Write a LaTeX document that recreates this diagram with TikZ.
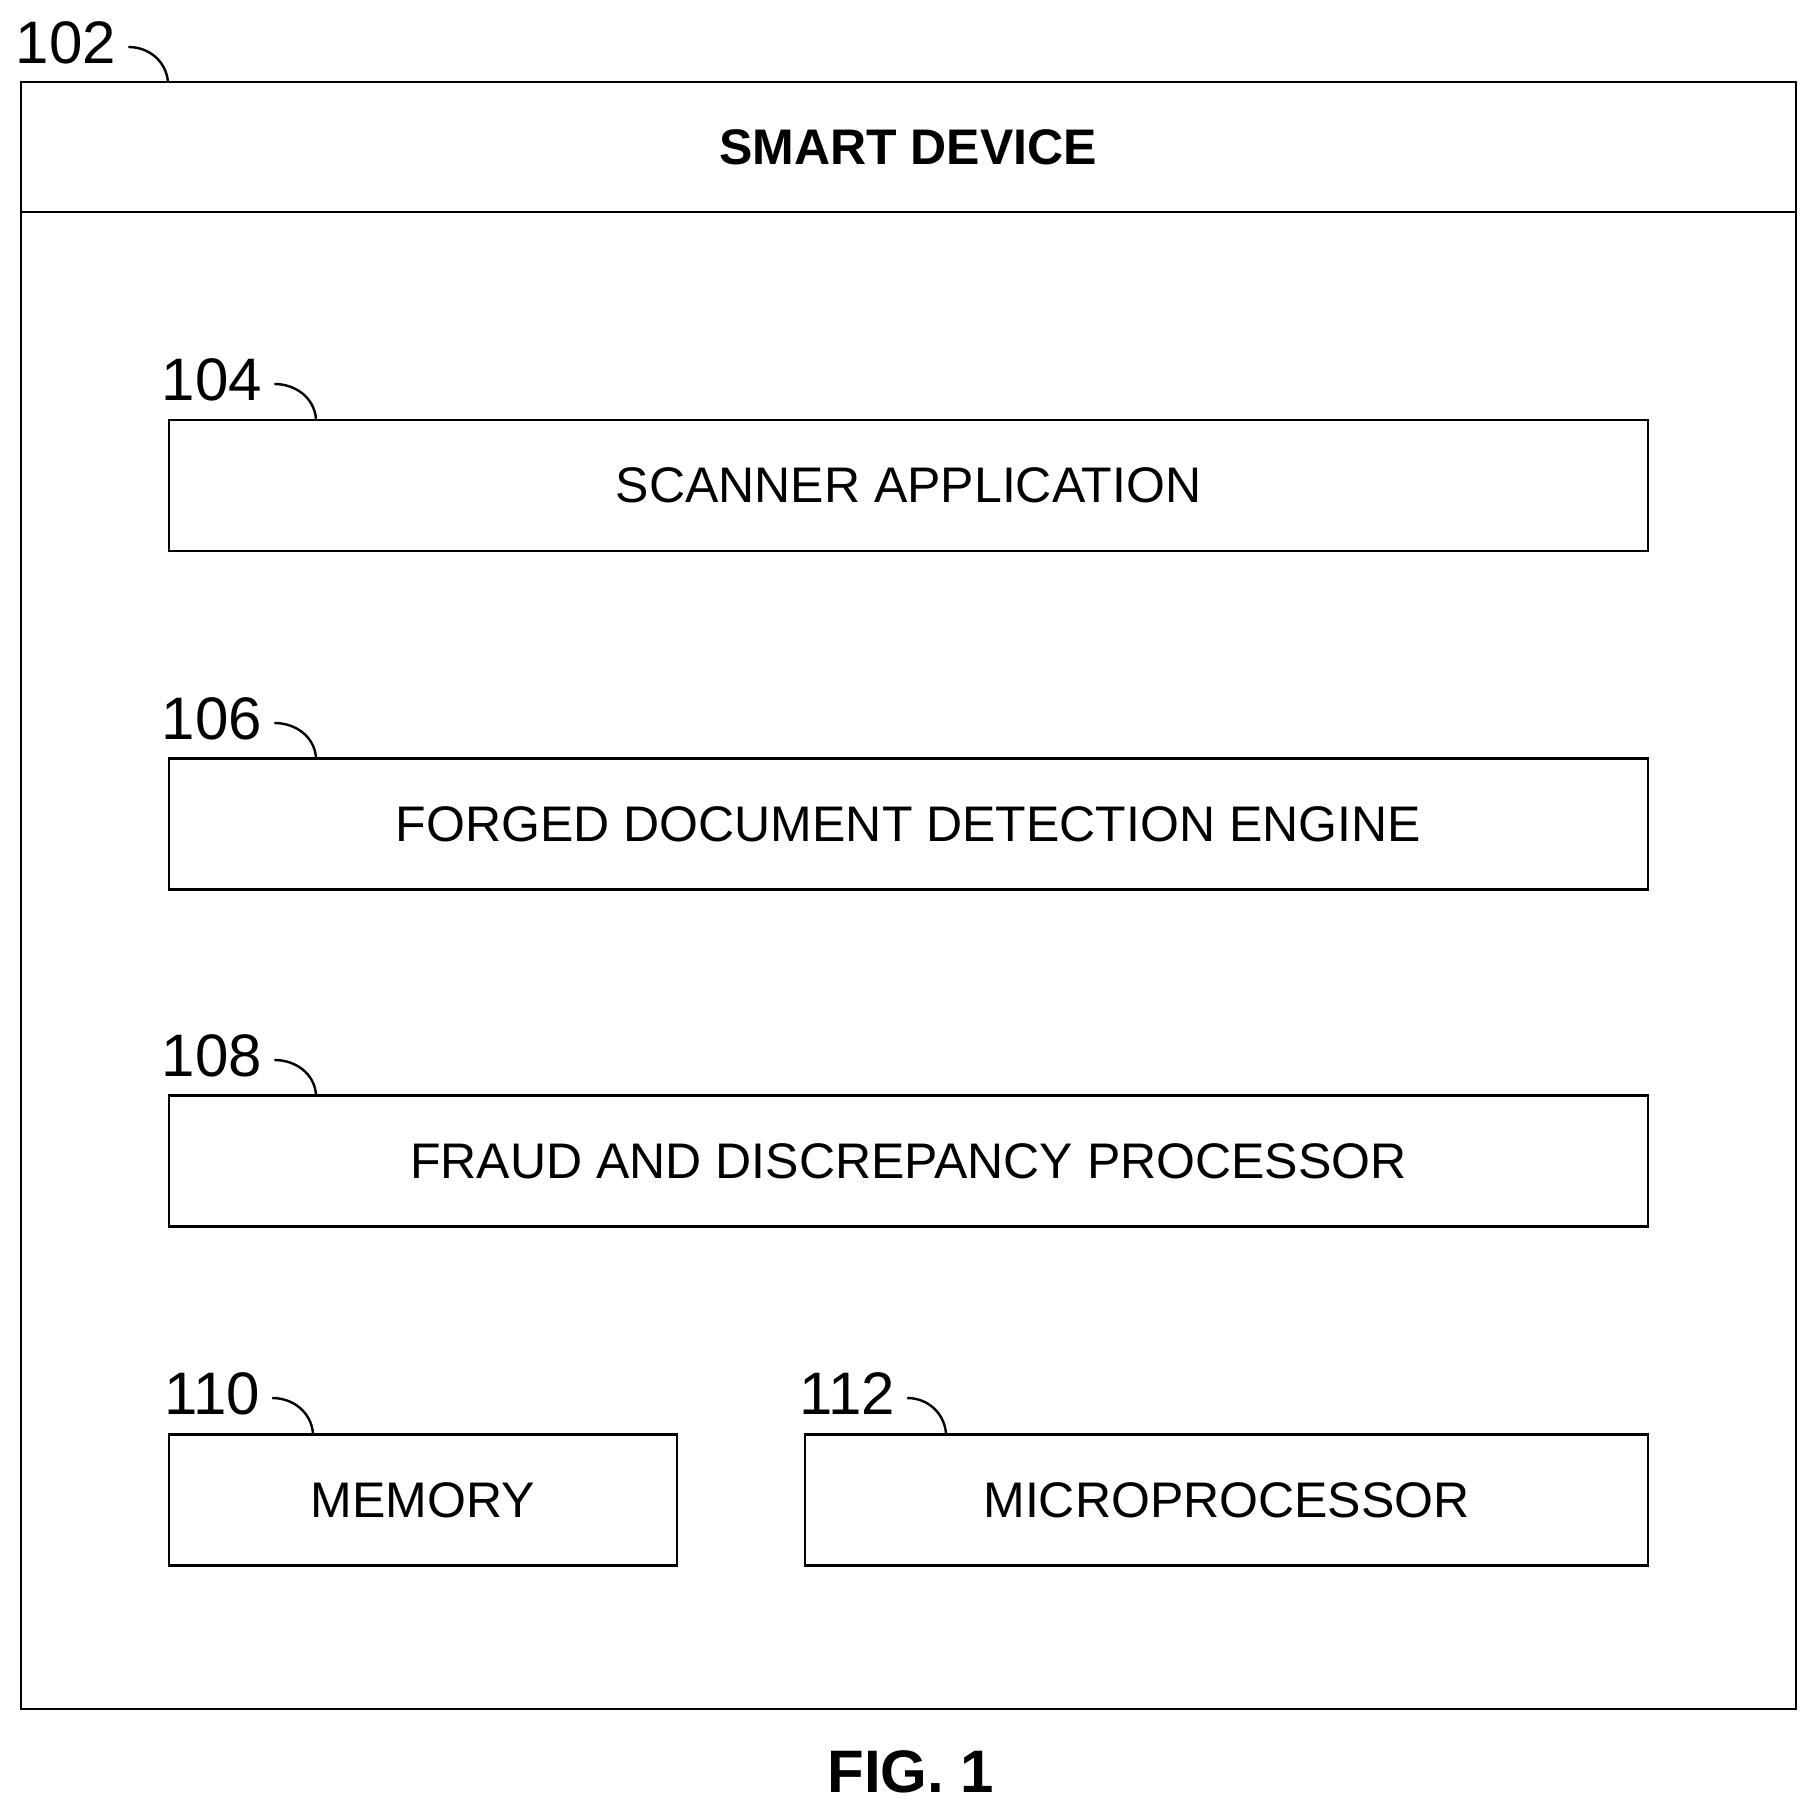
\documentclass[tikz,border=0pt]{standalone}
\usepackage{fontspec}
\setmainfont{Liberation Sans}
\usetikzlibrary{positioning}
\tikzset{
  blk/.style={draw, line width=1.2pt, minimum height=65.5pt, inner sep=0pt, font=\fontsize{25}{30}\selectfont},
  refnum/.style={font=\fontsize{30}{36}\selectfont, inner sep=0pt},
  leader/.style={line width=1.2pt}
}
\begin{document}
\begin{tikzpicture}[x=0.5pt,y=-0.5pt]
\useasboundingbox (0,0) rectangle (1814,1815);
% outer box
\draw[line width=1.2pt] (21,82) rectangle (1796,1709);
\draw[line width=1.2pt] (21,212) -- (1796,212);
\node[font=\bfseries\fontsize{25}{30}\selectfont] (head) at (908,147) {SMART DEVICE};
% blocks
\node[blk, minimum width=739.5pt] (scan) at (908.5,485.5) {SCANNER APPLICATION};
\node[blk, minimum width=739.5pt] (forge) at (908.5,824) {FORGED DOCUMENT DETECTION ENGINE};
\node[blk, minimum width=739.5pt] (fraud) at (908.5,1161) {FRAUD AND DISCREPANCY PROCESSOR};
\node[blk, minimum width=254pt] (mem) at (423,1500) {MEMORY};
\node[blk, minimum width=421.5pt] (micro) at (1226.5,1500) {MICROPROCESSOR};
% reference numbers
\node[refnum] (n102) at (66,43) {102};
\node[refnum] (n104) at (212,380) {104};
\node[refnum] (n106) at (212,719) {106};
\node[refnum] (n108) at (212,1056) {108};
\node[refnum] (n110) at (212,1394) {110};
\node[refnum] (n112) at (847,1394) {112};
\coordinate (c102) at (168,82);
\draw[leader] ([xshift=6pt,yshift=-2pt]n102.east) to[out=0,in=95] (c102);
\foreach \n/\b/\x in {104/scan/316,106/forge/316,108/fraud/316,110/mem/313,112/micro/946}
  \draw[leader] ([xshift=6pt,yshift=-2pt]n\n.east) to[out=0,in=95] (\b.north -| \x,0);
\node[font=\bfseries\fontsize{30}{36}\selectfont] (fig) at (911,1772) {FIG. 1};
\end{tikzpicture}
\end{document}
